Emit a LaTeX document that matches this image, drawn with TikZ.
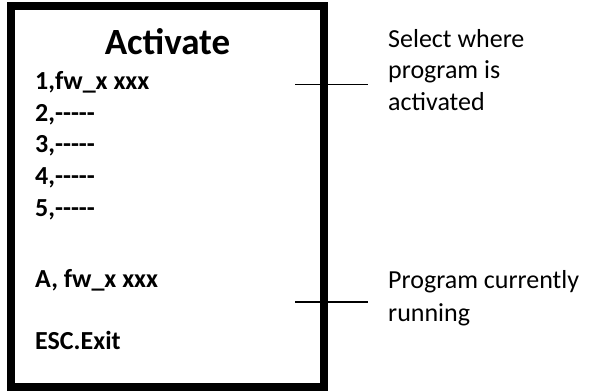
\documentclass[tikz,border=0pt]{standalone}
\usepackage{fontspec}
\setmainfont{Carlito}[Ligatures=TeXOff]
\begin{document}
\begin{tikzpicture}[x=1pt,y=1pt,
  item/.style={anchor=base west,inner sep=0pt,font=\fontsize{26}{30}\selectfont\bfseries},
  note/.style={anchor=base west,inner sep=0pt,font=\fontsize{26}{30}\selectfont},
  frame/.style={draw=black,line width=8pt},
  lead/.style={draw=black,line width=1.5pt}]
\useasboundingbox (0,0) rectangle (590,391);
\node[frame,minimum width=313pt,minimum height=381pt,anchor=center,inner sep=0pt] (box) at (167.5,194) {};
\node[anchor=base,inner sep=0pt,font=\fontsize{37}{42}\selectfont\bfseries] (title) at (167.5,336) {Activate};
\node[item] (i1) at (35,301) {1,fw\_x xxx};
\node[item] (i2) at (35,269.3) {2,-----};
\node[item] (i3) at (35,238) {3,-----};
\node[item] (i4) at (35,206) {4,-----};
\node[item] (i5) at (35,174.3) {5,-----};
\node[item] (ia) at (35,103) {A, fw\_x xxx};
\node[item] (esc) at (35,41) {ESC.Exit};
\node[note] (s1) at (388,343.5) {Select where};
\node[note] (s2) at (388,312) {program is};
\node[note] (s3) at (388,280.5) {activated};
\node[note] (p1) at (388,102.5) {Program currently};
\node[note] (p2) at (388,69.5) {running};
\coordinate (l1a) at (295,306.5);
\coordinate (l1b) at (368,306.5);
\coordinate (l2a) at (295,89);
\coordinate (l2b) at (368,89);
\draw[lead] (l1a) -- (l1b);
\draw[lead] (l2a) -- (l2b);
\end{tikzpicture}
\end{document}
